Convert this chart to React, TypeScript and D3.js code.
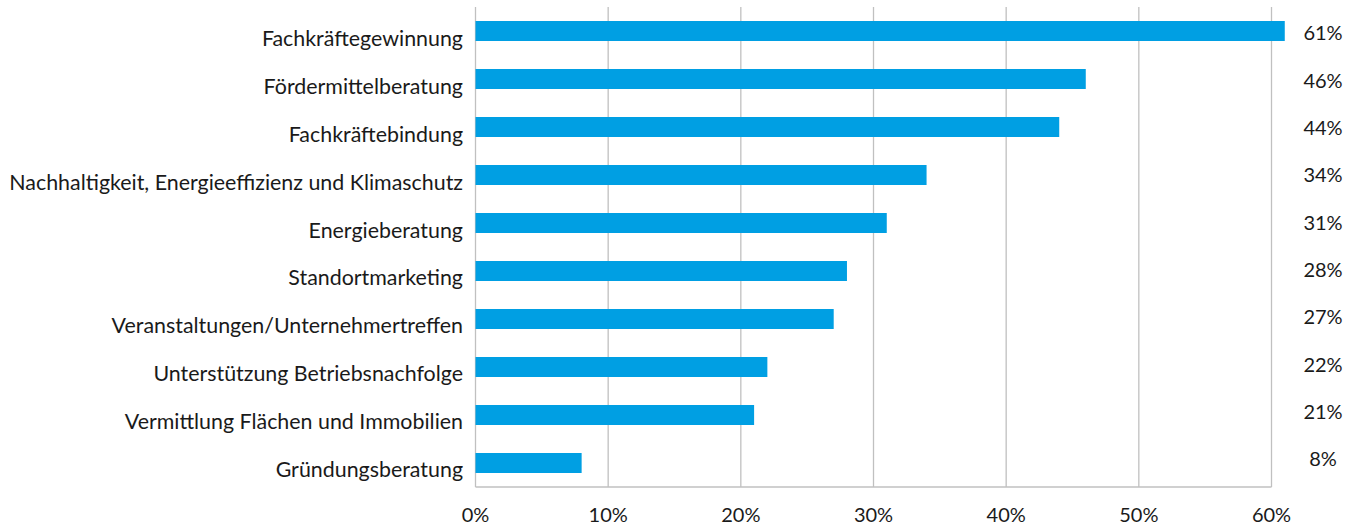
import React from "react";
import * as d3 from "d3";

const categories = [
  "Fachkräftegewinnung",
  "Fördermittelberatung",
  "Fachkräftebindung",
  "Nachhaltigkeit, Energieeffizienz und Klimaschutz",
  "Energieberatung",
  "Standortmarketing",
  "Veranstaltungen/Unternehmertreffen",
  "Unterstützung Betriebsnachfolge",
  "Vermittlung Flächen und Immobilien",
  "Gründungsberatung",
];
const values = [0.61, 0.46, 0.44, 0.34, 0.31, 0.28, 0.27, 0.22, 0.21, 0.08];
const tickValues = [0, 0.1, 0.2, 0.3, 0.4, 0.5, 0.6];

const W = 1359;
const H = 526;
const FONT = "Lato, 'Open Sans', sans-serif";
const TEXT = "#1a1a1a";
const GRID = "#c0c0c0";
const BAR = "#009FE3";

export default function App() {
  const x = d3.scaleLinear().domain([0, 0.6]).range([475.5, 1271.5]);
  const y = d3
    .scaleBand<string>()
    .domain(categories)
    .range([7, 487])
    .paddingInner(0.5833)
    .paddingOuter(0.2917);
  const yCat = d3.scalePoint<string>().domain(categories).range([38.5, 469]);
  const yLabel = d3.scalePoint<string>().domain(categories).range([33, 459]);
  const fmt = d3.format(".0%");
  const [top, bottom] = y.range();

  return (
    <svg
      width={W}
      height={H}
      style={{ position: "absolute", left: 0, top: 0, background: "#fff" }}
      fontFamily={FONT}
    >
      {tickValues.map((t) => (
        <line
          key={"g" + t}
          x1={x(t)}
          x2={x(t)}
          y1={top}
          y2={bottom}
          stroke={GRID}
          strokeWidth={1.3}
        />
      ))}
      <line x1={x(0)} x2={x(0.6)} y1={bottom} y2={bottom} stroke={GRID} strokeWidth={1.3} />
      {categories.map((c, i) => (
        <rect
          key={"b" + c}
          x={x(0)}
          y={y(c)}
          width={x(values[i]) - x(0)}
          height={y.bandwidth()}
          fill={BAR}
        />
      ))}
      {categories.map((c) => (
        <text
          key={"c" + c}
          x={463}
          y={yCat(c)}
          dy="0.36em"
          textAnchor="end"
          fontSize={21.4}
          fill={TEXT}
        >
          {c}
        </text>
      ))}
      {categories.map((c, i) => (
        <text
          key={"v" + c}
          x={1323}
          y={yLabel(c)}
          dy="0.36em"
          textAnchor="middle"
          fontSize={20}
          fill={TEXT}
        >
          {fmt(values[i])}
        </text>
      ))}
      {tickValues.map((t) => (
        <text
          key={"t" + t}
          x={x(t)}
          y={515}
          dy="0.36em"
          textAnchor="middle"
          fontSize={20}
          fill={TEXT}
        >
          {fmt(t)}
        </text>
      ))}
    </svg>
  );
}
